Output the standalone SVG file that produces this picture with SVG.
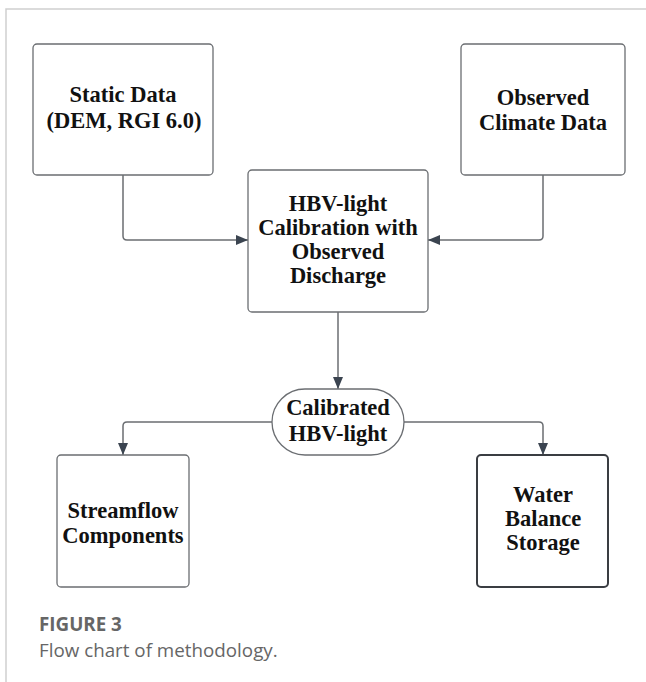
<svg xmlns="http://www.w3.org/2000/svg" width="646" height="682" viewBox="0 0 646 682">
<defs>
<style>
.box{fill:#fff;stroke:#6b6e72;stroke-width:1.3}
.boxd{fill:#fff;stroke:#3a3d42;stroke-width:2}
.t{font-family:"Liberation Serif","Times New Roman",serif;font-weight:bold;font-size:22.5px;fill:#111;text-anchor:middle}
.c{fill:none;stroke:#6b6e72;stroke-width:1.5}
.cap{font-family:"Open Sans",Lato,sans-serif;font-size:18.8px;fill:#666}
</style>
<marker id="ah" viewBox="0 0 12 10" refX="12" refY="5" markerWidth="12" markerHeight="10" markerUnits="userSpaceOnUse" orient="auto">
<path d="M0,0 L12,5 L0,10 Z" fill="#3b4450"/>
</marker>
</defs>
<rect width="646" height="682" fill="#fff"/>
<path d="M6,682 V9 H646" fill="none" stroke="#cfcfcf" stroke-width="1.5"/>
<g id="connectors">
<path class="c" d="M123,175 V236 Q123,240 127,240 H248" marker-end="url(#ah)"/>
<path class="c" d="M543,175 V236 Q543,240 539,240 H428" marker-end="url(#ah)"/>
<path class="c" d="M338,312 V389" marker-end="url(#ah)"/>
<path class="c" d="M272,422 H127 Q123,422 123,426 V455" marker-end="url(#ah)"/>
<path class="c" d="M404,422 H539 Q543,422 543,426 V455" marker-end="url(#ah)"/>
</g>
<g id="static">
<rect class="box" x="33" y="44" width="180" height="131" rx="4"/>
<text class="t" x="123" y="102">Static Data</text>
<text class="t" x="124" y="128">(DEM, RGI 6.0)</text>
</g>
<g id="climate">
<rect class="box" x="461" y="44" width="164" height="131" rx="4"/>
<text class="t" x="543" y="105">Observed</text>
<text class="t" x="543" y="130">Climate Data</text>
</g>
<g id="hbv">
<rect class="box" x="248" y="170" width="180" height="142" rx="4"/>
<text class="t" x="338" y="211">HBV-light</text>
<text class="t" x="338" y="235">Calibration with</text>
<text class="t" x="338" y="259">Observed</text>
<text class="t" x="338" y="283">Discharge</text>
</g>
<g id="calibrated">
<rect class="box" x="272" y="389" width="132" height="66" rx="33"/>
<text class="t" x="338" y="415">Calibrated</text>
<text class="t" x="338" y="441">HBV-light</text>
</g>
<g id="streamflow">
<rect class="box" x="57" y="455" width="132" height="132" rx="4"/>
<text class="t" x="123" y="518">Streamflow</text>
<text class="t" x="123" y="543">Components</text>
</g>
<g id="water">
<rect class="boxd" x="477" y="455" width="131" height="132" rx="4"/>
<text class="t" x="543" y="502">Water</text>
<text class="t" x="543" y="526">Balance</text>
<text class="t" x="543" y="550">Storage</text>
</g>
<g id="caption">
<text class="cap" x="39" y="631" font-weight="bold" fill="#606060">FIGURE 3</text>
<text class="cap" x="39" y="657">Flow chart of methodology.</text>
</g>
</svg>
